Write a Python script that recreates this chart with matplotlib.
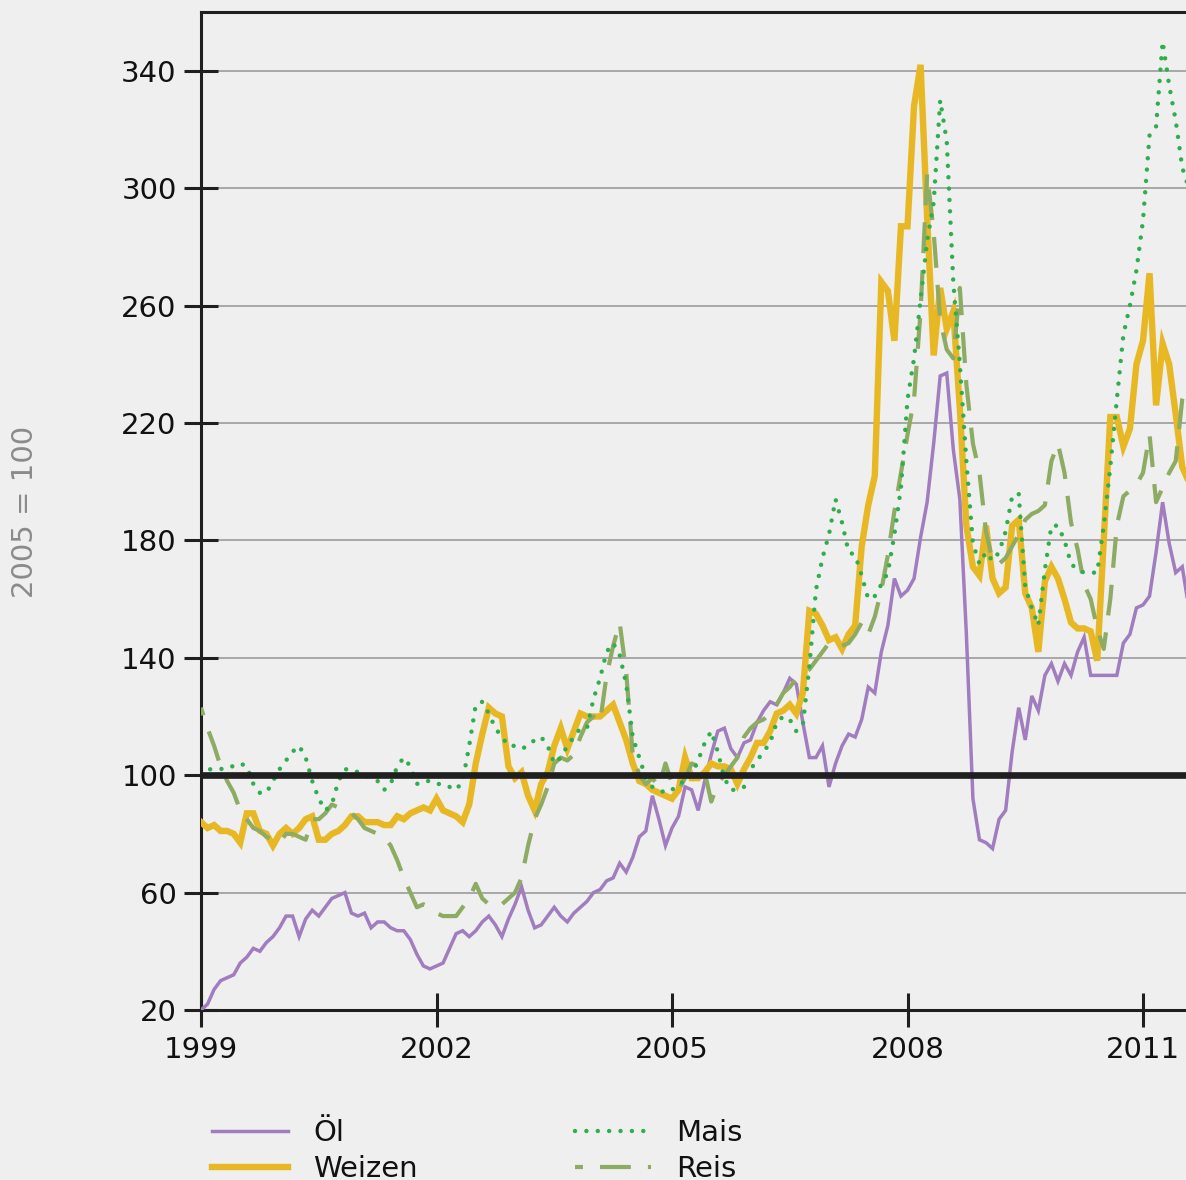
import numpy as np
import matplotlib
matplotlib.use("Agg")
import matplotlib.pyplot as plt

# ---------------- data (monthly index values, 2005 = 100), Jan 1999 .. Aug 2011
start_year = 1999
oel = [
    20, 22, 27, 30, 31, 32, 36, 38, 41, 40, 43, 45,            # 1999
    48, 52, 52, 45, 51, 54, 52, 55, 58, 59, 60, 53,            # 2000
    52, 53, 48, 50, 50, 48, 47, 47, 44, 39, 35, 34,            # 2001
    35, 36, 41, 46, 47, 45, 47, 50, 52, 49, 45, 51,            # 2002
    56, 62, 54, 48, 49, 52, 55, 52, 50, 53, 55, 57,            # 2003
    60, 61, 64, 65, 70, 67, 72, 79, 81, 93, 85, 76,            # 2004
    82, 86, 96, 95, 88, 98, 107, 115, 116, 109, 106, 111,      # 2005
    112, 118, 122, 125, 124, 128, 133, 131, 118, 106, 106, 110,  # 2006
    96, 104, 110, 114, 113, 119, 130, 128, 142, 151, 167, 161,   # 2007
    163, 167, 181, 193, 213, 236, 237, 211, 194, 148, 92, 78,    # 2008
    77, 75, 85, 88, 108, 123, 112, 127, 122, 134, 138, 132,      # 2009
    138, 134, 142, 147, 134, 134, 134, 134, 134, 145, 148, 157,  # 2010
    158, 161, 176, 193, 179, 169, 171, 157,                      # 2011
]
weizen = [
    84, 82, 83, 81, 81, 80, 77, 87, 87, 81, 80, 76,
    80, 82, 80, 82, 85, 86, 78, 78, 80, 81, 83, 86,
    86, 84, 84, 84, 83, 83, 86, 85, 87, 88, 89, 88,
    92, 88, 87, 86, 84, 90, 104, 114, 123, 121, 120, 103,
    99, 101, 93, 88, 97, 101, 110, 116, 109, 115, 121, 120,
    120, 120, 122, 124, 118, 112, 104, 98, 97, 95, 94, 93,
    92, 95, 106, 99, 99, 101, 104, 103, 103, 102, 97, 102,
    106, 111, 111, 115, 121, 122, 124, 121, 128, 156, 155, 151,
    146, 147, 143, 148, 151, 178, 192, 202, 268, 265, 248, 287,
    287, 328, 342, 290, 243, 266, 252, 258, 225, 185, 171, 168,
    185, 167, 162, 164, 185, 187, 162, 157, 142, 166, 171, 167,
    160, 152, 150, 150, 149, 139, 180, 222, 222, 212, 218, 240,
    248, 271, 226, 247, 240, 223, 205, 200,
]
mais = [
    100, 102, 102, 102, 103, 103, 104, 103, 97, 94, 94, 98,
    102, 105, 108, 110, 106, 98, 92, 88, 90, 98, 102, 102,
    101, 100, 99, 98, 95, 97, 103, 106, 103, 97, 98, 98,
    97, 97, 96, 95, 98, 110, 124, 125, 121, 116, 113, 110,
    110, 109, 110, 112, 113, 110, 104, 106, 110, 113, 116, 116,
    126, 133, 142, 145, 141, 131, 113, 106, 99, 96, 95, 94,
    95, 97, 98, 100, 105, 111, 115, 108, 99, 95, 95, 96,
    102, 105, 108, 111, 118, 120, 119, 115, 117, 137, 163, 174,
    182, 194, 186, 176, 175, 168, 160, 161, 165, 169, 182, 198,
    228, 242, 262, 282, 295, 330, 316, 268, 240, 207, 179, 172,
    176, 173, 176, 183, 195, 196, 164, 157, 151, 170, 185, 185,
    180, 172, 170, 169, 169, 169, 185, 205, 228, 250, 260, 272,
    289, 318, 321, 350, 335, 323, 307, 300,
]
reis = [
    123, 116, 110, 103, 98, 94, 88, 85, 82, 81, 79, 78,
    77, 80, 80, 79, 78, 85, 85, 87, 90, 89, 88, 87,
    85, 82, 81, 80, 79, 76, 71, 65, 60, 55, 56, 55,
    53, 52, 52, 52, 55, 58, 63, 58, 56, 55, 56, 58,
    60, 65, 76, 85, 90, 96, 104, 106, 105, 107, 113, 118,
    120, 118, 134, 144, 152, 135, 107, 100, 97, 99, 96, 104,
    97, 95, 99, 104, 103, 101, 91, 97, 100, 103, 106, 113,
    116, 118, 119, 121, 124, 128, 130, 133, 135, 136, 139, 142,
    145, 144, 144, 145, 148, 152, 148, 154, 163, 175, 190, 203,
    216, 228, 258, 305, 285, 255, 245, 242, 266, 233, 213, 203,
    183, 173, 172, 174, 178, 182, 187, 189, 190, 192, 207, 213,
    203, 186, 177, 165, 160, 150, 143, 160, 185, 195, 197, 199,
    203, 216, 193, 198, 203, 207, 228, 236,
]
series_labels = ["Öl", "Weizen", "Mais", "Reis"]
x_ticks = [1999, 2002, 2005, 2008, 2011]
y_ticks = [20, 60, 100, 140, 180, 220, 260, 300, 340]
y_label = "2005 = 100"

# ---------------- styling
BG = "#eeefee"
INK = "#1f1f1f"
C_OEL = "#a17dbf"
C_WEIZEN = "#e8b824"
C_MAIS = "#2fae4e"
C_REIS = "#8dab62"

W, H = 1186, 1180
fig = plt.figure(figsize=(W / 100, H / 100), dpi=100, facecolor=BG)
ax = fig.add_axes([201 / W, 1 - 1010 / H, 1099 / W, (1010 - 12) / H])
ax.set_facecolor(BG)

t = start_year + np.arange(len(oel)) / 12.0

l_oel, = ax.plot(t, oel, color=C_OEL, lw=2.5, zorder=3, solid_joinstyle="miter")
l_wei, = ax.plot(t, weizen, color=C_WEIZEN, lw=4.6, zorder=3, solid_joinstyle="miter")
l_reis, = ax.plot(t, reis, color=C_REIS, lw=3.0, zorder=3,
                  linestyle=(5.5, (7.4, 4.1)))
l_mais, = ax.plot(t, mais, color=C_MAIS, lw=3.2, zorder=3,
                  linestyle=(0, (0.01, 2.55)), dash_capstyle="round")

ax.axhline(100, color=INK, lw=4.8, zorder=5)

ax.set_xlim(1999, 2013)
ax.set_ylim(20, 360)
ax.set_xticks(x_ticks)
ax.set_yticks(y_ticks)
ax.yaxis.grid(True, color="#9b9b9b", lw=1.2)
ax.xaxis.grid(False)
ax.set_axisbelow(True)

for side in ["left", "top", "bottom"]:
    ax.spines[side].set_color(INK)
    ax.spines[side].set_linewidth(2.2)
ax.spines["right"].set_visible(False)

ax.tick_params(axis="both", direction="inout", length=24, width=2.2,
               color=INK, labelsize=21, labelcolor="#111111")
ax.tick_params(axis="y", pad=5.5)
ax.tick_params(axis="x", pad=6.5)

fig.text(25 / W, 1 - 512 / H, y_label, rotation=90, color="#8a8a8a",
         fontsize=21, ha="center", va="center")

handles = [l_oel, l_wei, l_mais, l_reis]
labels = [series_labels[0], series_labels[1], series_labels[2], series_labels[3]]
leg = ax.legend(handles, labels, ncol=2, loc="upper left",
                bbox_to_anchor=(212 / W, 1 - 1119 / H),
                bbox_transform=fig.transFigure, frameon=False,
                fontsize=21, handlelength=2.6, handletextpad=0.86,
                columnspacing=5.4, labelspacing=0.27, borderpad=0,
                borderaxespad=0)
for txt in leg.get_texts():
    txt.set_color("#111111")

fig.savefig("out.png", dpi=100, facecolor=BG)
